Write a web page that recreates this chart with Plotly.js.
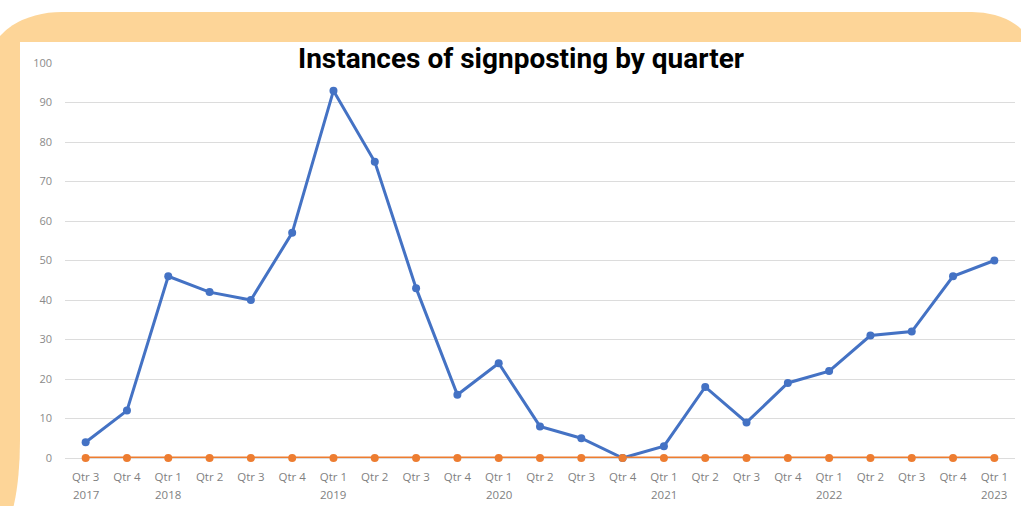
<!DOCTYPE html>
<html>
<head>
<meta charset="utf-8">
<script src="https://cdn.plot.ly/plotly-3.0.1.min.js"></script>
<style>
  html, body { margin: 0; padding: 0; width: 1021px; height: 506px; overflow: hidden; background: #ffffff; }
  #wrap { position: relative; width: 1021px; height: 506px; overflow: hidden; }
  .bg { position: absolute; }
  #topband { left: -8px; top: 12px; width: 1040px; height: 80px; background: #FDD598;
             border-top-left-radius: 70px 45px; border-top-right-radius: 60px 40px; }
  #leftstrip { left: 0; top: 60px; width: 20px; height: 470px; background: #FDD598;
               border-bottom-right-radius: 20px 90px; }
  #panel { left: 20px; top: 42px; width: 1010px; height: 470px; background: #ffffff; }
  #chart { position: absolute; left: 0; top: 0; width: 1021px; height: 506px; }
</style>
</head>
<body>
<div id="wrap">
  <div class="bg" id="topband"></div>
  <div class="bg" id="leftstrip"></div>
  <div class="bg" id="panel"></div>
  <div id="chart"></div>
</div>
<script>
const quarters = ["Qtr 3","Qtr 4","Qtr 1","Qtr 2","Qtr 3","Qtr 4","Qtr 1","Qtr 2","Qtr 3","Qtr 4",
  "Qtr 1","Qtr 2","Qtr 3","Qtr 4","Qtr 1","Qtr 2","Qtr 3","Qtr 4","Qtr 1","Qtr 2","Qtr 3","Qtr 4","Qtr 1"];
const years = ["2017","","2018","","","","2019","","","","2020","","","","2021","","","","2022","","","","2023"];
const categories = quarters.map((q, i) => "c" + i);
const signposting = [4, 12, 46, 42, 40, 57, 93, 75, 43, 16, 24, 8, 5, 0, 3, 18, 9, 19, 22, 31, 32, 46, 50];
const secondSeries = [0, 0, 0, 0, 0, 0, 0, 0, 0, 0, 0, 0, 0, 0, 0, 0, 0, 0, 0, 0, 0, 0, 0];
const yTicks = [0, 10, 20, 30, 40, 50, 60, 70, 80, 90, 100];

const tickFont = { family: "'Open Sans', 'DejaVu Sans', sans-serif", size: 11.5, color: "#7f7f7f" };

const traces = [
  { x: categories, y: signposting, type: "scatter", mode: "lines+markers",
    line: { color: "#4472C4", width: 3 }, marker: { color: "#4472C4", size: 8 },
    cliponaxis: false, showlegend: false, hoverinfo: "y" },
  { x: categories, y: secondSeries, type: "scatter", mode: "lines+markers",
    line: { color: "#ED7D31", width: 3 }, marker: { color: "#ED7D31", size: 8 },
    cliponaxis: false, showlegend: false, hoverinfo: "y" }
];

const yearAnnotations = years.map((yr, i) => ({
  text: yr, x: categories[i], xref: "x", y: -36 / 395, yref: "paper",
  yanchor: "middle", xanchor: "center", showarrow: false, font: tickFont
})).filter(a => a.text !== "");

const layout = {
  width: 1021, height: 506,
  paper_bgcolor: "rgba(0,0,0,0)", plot_bgcolor: "rgba(0,0,0,0)",
  margin: { l: 65, r: 6, t: 63, b: 48 },
  title: { text: "<b>Instances of signposting by quarter</b>",
           font: { family: "Roboto, 'Open Sans', sans-serif", size: 28, color: "#000000" },
           x: 521 / 1021, xanchor: "center", xref: "container",
           y: 1 - 58 / 506, yanchor: "middle", yref: "container" },
  xaxis: { type: "category", tickmode: "array", tickvals: categories, ticktext: quarters,
           range: [-0.5, 22.5], showgrid: false, showline: false, ticks: "",
           ticklabelstandoff: 10, tickfont: tickFont, tickangle: 0, fixedrange: true },
  yaxis: { range: [0, 100], tickmode: "array", tickvals: yTicks,
           showgrid: true, gridcolor: "#dcdcdc", gridwidth: 1,
           zeroline: true, zerolinecolor: "#dcdcdc", zerolinewidth: 1,
           showline: false, ticks: "", ticklabelstandoff: 12,
           tickfont: { family: "'Open Sans', 'DejaVu Sans', sans-serif", size: 11, color: "#8a8a8a" },
           fixedrange: true },
  annotations: yearAnnotations
};

Plotly.newPlot("chart", traces, layout, { displayModeBar: false, staticPlot: true });
</script>
</body>
</html>
